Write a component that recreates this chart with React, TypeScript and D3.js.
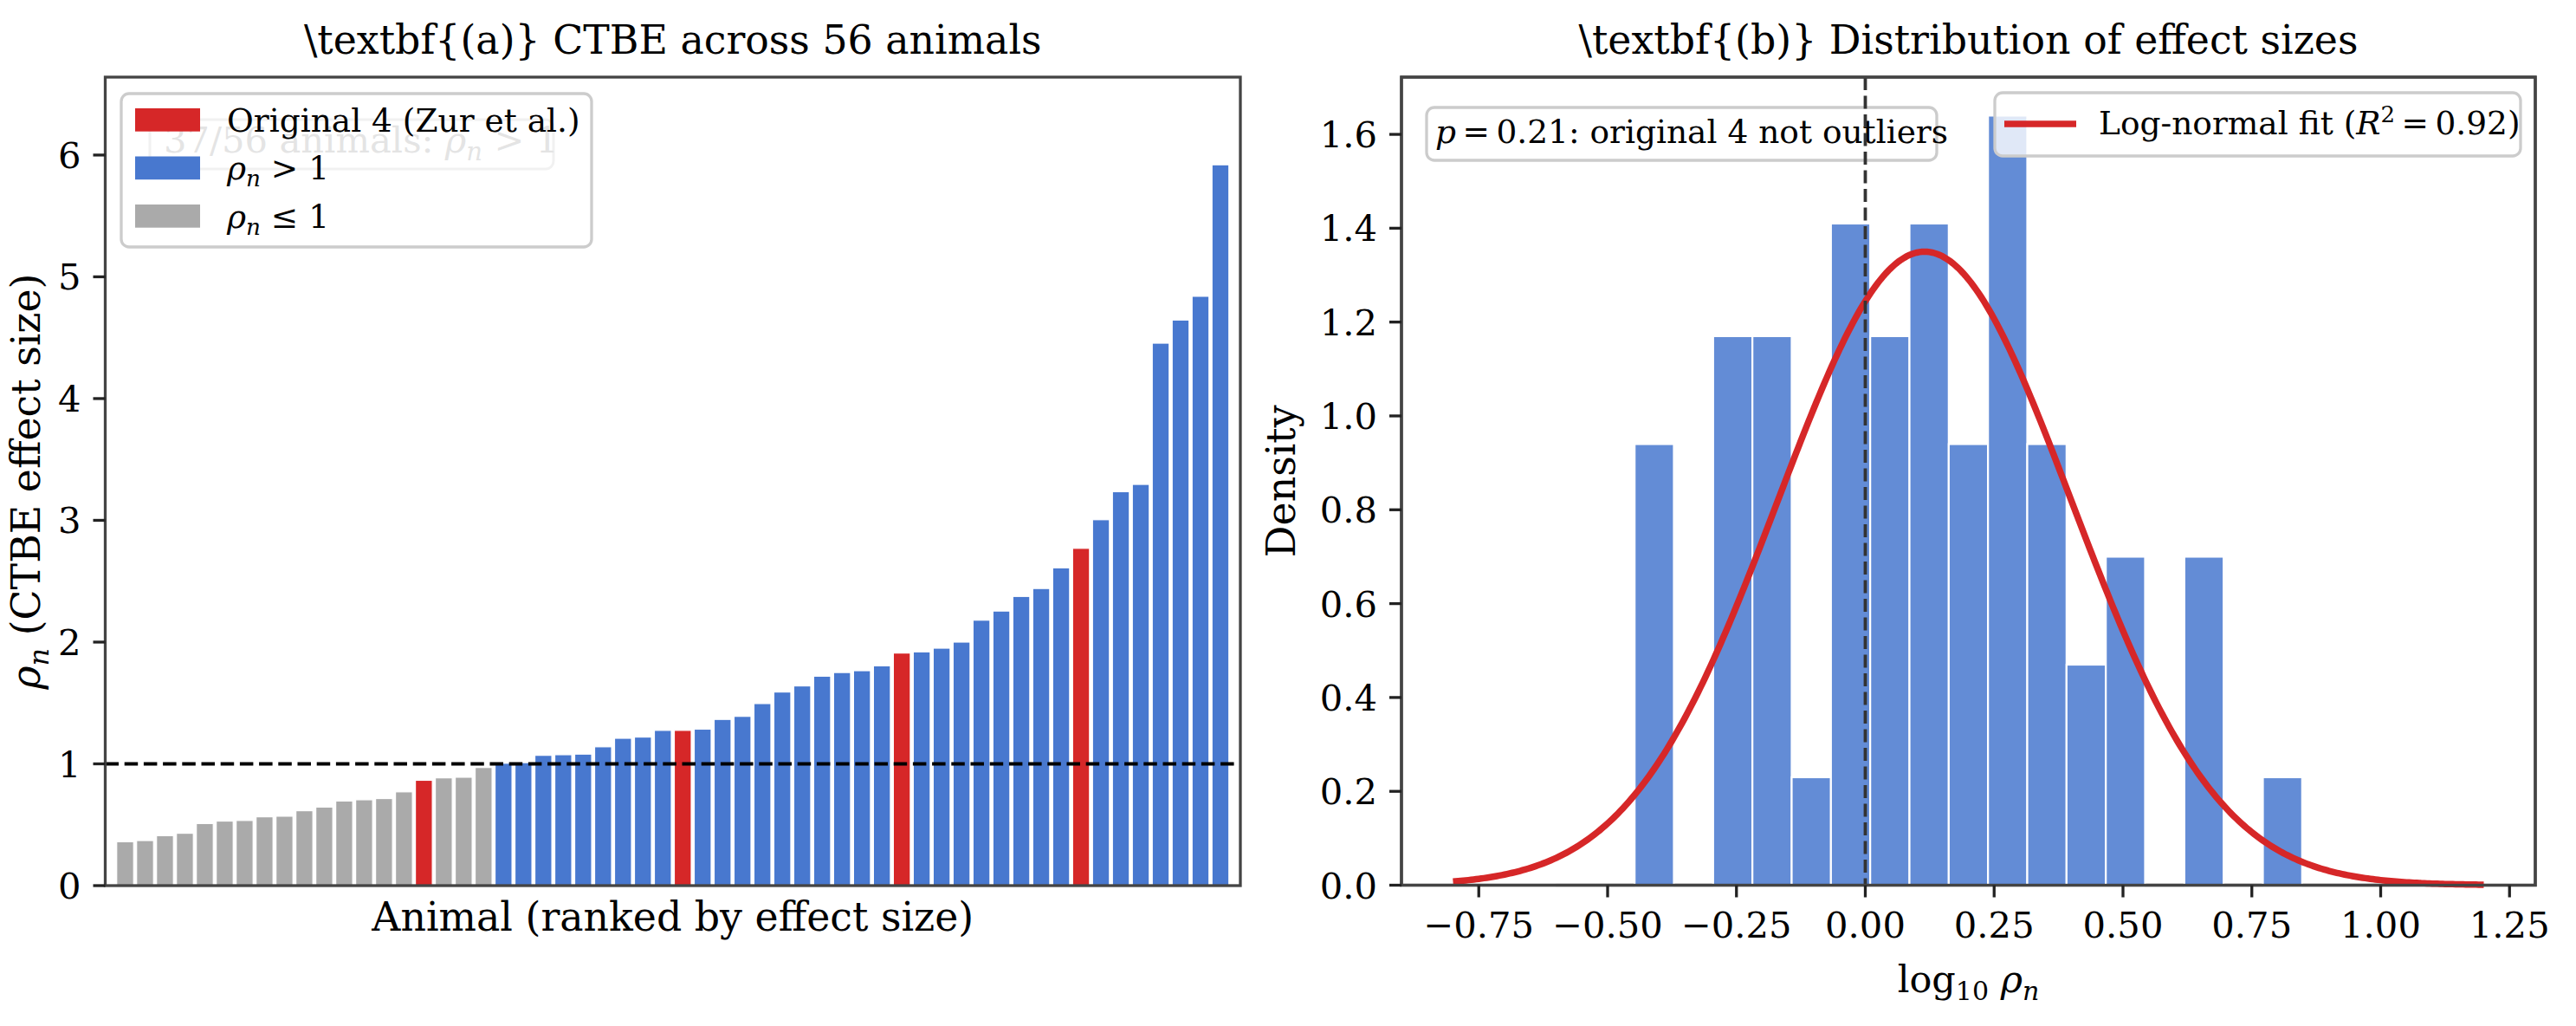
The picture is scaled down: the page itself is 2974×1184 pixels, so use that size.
import React, { useEffect, useRef } from 'react';
import * as d3 from 'd3';

// --- data ---
const rhoValues = [
  0.36, 0.37, 0.41, 0.43, 0.51, 0.53, 0.535, 0.565, 0.57, 0.615, 0.645, 0.695, 0.705, 0.715,
  0.77, 0.865, 0.885, 0.89, 0.97, 1.005, 1.01, 1.07, 1.075, 1.08, 1.14, 1.21, 1.22, 1.275,
  1.275, 1.285, 1.365, 1.39, 1.495, 1.59, 1.64, 1.72, 1.75, 1.765, 1.805, 1.91, 1.92, 1.95,
  2.0, 2.18, 2.255, 2.375, 2.44, 2.61, 2.77, 3.005, 3.235, 3.295, 4.455, 4.645, 4.84, 5.92,
];
const originalIdx = [15, 28, 39, 48];
const rhoTicks = [0, 1, 2, 3, 4, 5, 6];

const histDensity = [
  0, 0, 0.94, 0, 1.17, 1.17, 0.23, 1.41, 1.17, 1.41, 0.94, 1.64, 0.94, 0.47, 0.7, 0, 0.7, 0,
  0.23, 0, 0,
];
const histRange = [-0.6, 1.0];
const densityTicks = [0, 0.2, 0.4, 0.6, 0.8, 1.0, 1.2, 1.4, 1.6];
const logTicks = [-0.75, -0.5, -0.25, 0, 0.25, 0.5, 0.75, 1.0, 1.25];

// log-normal fit (gaussian in log10 space)
const fitMu = 0.115;
const fitSigma = 0.285;
const fitPeak = 1.35;
const fitRange = [-0.8, 1.2];

const RED = '#d62728';
const BLUE = '#4878cf';
const GRAY = '#aaaaaa';
const FONT = "'DejaVu Serif', serif";
const TICK = 41.7;
const LABEL = 45.8;

function addRhoN(t: any, size: number, rest: string) {
  t.append('tspan').attr('font-style', 'italic').text('ρ');
  t.append('tspan').attr('font-style', 'italic').attr('font-size', size * 0.7).attr('dy', size * 0.22).text('n');
  t.append('tspan').attr('dy', -size * 0.22).text(rest);
}

function App() {
  const ref = useRef<SVGSVGElement>(null);

  useEffect(() => {
    const svg = d3.select(ref.current);
    svg.selectAll('*').remove();

    svg.append('rect').attr('width', 2974).attr('height', 1184).attr('fill', 'white');

    // ================= panel (a) =================
    const A = { left: 121.5, right: 1432, top: 89, bottom: 1022 };
    const x = d3.scaleLinear().domain([-1, 56]).range([A.left, A.right]);
    const y = d3.scaleLinear().domain([0, 6.64]).range([A.bottom, A.top]);
    const bw = x(0.85) - x(0);
    const ga = svg.append('g');

    ga.selectAll('rect.bar')
      .data(rhoValues)
      .enter()
      .append('rect')
      .attr('x', (d, i) => x(i) - bw / 2)
      .attr('y', (d) => y(d))
      .attr('width', bw)
      .attr('height', (d) => y(0) - y(d))
      .attr('fill', (d, i) => (originalIdx.includes(i) ? RED : d > 1 ? BLUE : GRAY))
      .attr('stroke', 'white')
      .attr('stroke-width', 1.2);

    ga.append('line')
      .attr('x1', A.left).attr('x2', A.right)
      .attr('y1', y(1)).attr('y2', y(1))
      .attr('stroke', 'black').attr('stroke-width', 4.2)
      .attr('stroke-dasharray', '15.5,6.7');

    ga.append('rect')
      .attr('x', A.left).attr('y', A.top)
      .attr('width', A.right - A.left).attr('height', A.bottom - A.top)
      .attr('fill', 'none').attr('stroke', '#444').attr('stroke-width', 3.3);

    rhoTicks.forEach((t) => {
      ga.append('line')
        .attr('x1', A.left - 14).attr('x2', A.left)
        .attr('y1', y(t)).attr('y2', y(t))
        .attr('stroke', '#222').attr('stroke-width', 3.3);
      ga.append('text')
        .attr('x', A.left - 28).attr('y', y(t)).attr('dy', '0.36em')
        .attr('text-anchor', 'end').attr('font-family', FONT).attr('font-size', TICK)
        .text(t);
    });

    ga.append('text')
      .attr('x', (A.left + A.right) / 2).attr('y', 1074)
      .attr('text-anchor', 'middle').attr('font-family', FONT).attr('font-size', LABEL)
      .text('Animal (ranked by effect size)');

    const yl = ga.append('text')
      .attr('transform', `translate(46,${(A.top + A.bottom) / 2}) rotate(-90)`)
      .attr('text-anchor', 'middle').attr('font-family', FONT).attr('font-size', LABEL);
    addRhoN(yl, LABEL, ' (CTBE effect size)');

    ga.append('text')
      .attr('x', (A.left + A.right) / 2).attr('y', 62)
      .attr('text-anchor', 'middle').attr('font-family', FONT).attr('font-size', 45.8)
      .text('\\textbf{(a)} CTBE across 56 animals');

    // faint count box sitting behind the legend
    ga.append('rect')
      .attr('x', 173).attr('y', 138).attr('width', 466).attr('height', 57).attr('rx', 9)
      .attr('fill', 'white').attr('fill-opacity', 0.8).attr('stroke', '#bbb').attr('stroke-width', 3);
    const faint = ga.append('text')
      .attr('x', 189).attr('y', 176).attr('fill', '#777')
      .attr('font-family', FONT).attr('font-size', TICK);
    faint.append('tspan').text('37/56 animals: ');
    addRhoN(faint, TICK, ' > 1');

    // legend
    ga.append('rect')
      .attr('x', 140).attr('y', 108).attr('width', 543).attr('height', 177).attr('rx', 9)
      .attr('fill', 'white').attr('fill-opacity', 0.8).attr('stroke', '#cccccc').attr('stroke-width', 3.3);
    const legendA = [
      { color: RED, label: 'Original 4 (Zur et al.)' },
      { color: BLUE, label: ' > 1' },
      { color: GRAY, label: ' ≤ 1' },
    ];
    legendA.forEach((l, i) => {
      const yy = 125 + i * 55.5;
      ga.append('rect').attr('x', 156).attr('y', yy).attr('width', 75).attr('height', 26.7).attr('fill', l.color);
      const t = ga.append('text')
        .attr('x', 262).attr('y', yy + 26.7)
        .attr('font-family', FONT).attr('font-size', 37.5);
      if (i === 0) t.text(l.label);
      else addRhoN(t, 37.5, l.label);
    });

    // ================= panel (b) =================
    const B = { left: 1618, right: 2927, top: 89, bottom: 1021.5 };
    const xb = d3.scaleLinear().domain([-0.9, 1.3]).range([B.left, B.right]);
    const yb = d3.scaleLinear().domain([0, 1.722]).range([B.bottom, B.top]);
    const gb = svg.append('g');

    gb.append('rect')
      .attr('x', B.left).attr('y', B.top)
      .attr('width', B.right - B.left).attr('height', B.bottom - B.top)
      .attr('fill', 'none').attr('stroke', '#444').attr('stroke-width', 3.3);

    const binW = (histRange[1] - histRange[0]) / histDensity.length;
    histDensity.forEach((d, i) => {
      const x0 = xb(histRange[0] + i * binW);
      const x1 = xb(histRange[0] + (i + 1) * binW);
      if (d > 0) {
        gb.append('rect')
          .attr('x', x0).attr('y', yb(d))
          .attr('width', x1 - x0).attr('height', yb(0) - yb(d))
          .attr('fill', BLUE).attr('fill-opacity', 0.85)
          .attr('stroke', 'white').attr('stroke-width', 2.2);
      } else {
        gb.append('line')
          .attr('x1', x0).attr('x2', x1).attr('y1', yb(0)).attr('y2', yb(0))
          .attr('stroke', '#c8c8c8').attr('stroke-width', 3.3);
      }
    });

    const fitX = d3.range(0, 401).map((k) => fitRange[0] + (k / 400) * (fitRange[1] - fitRange[0]));
    const line = d3.line<number>()
      .x((v) => xb(v))
      .y((v) => yb(fitPeak * Math.exp(-0.5 * ((v - fitMu) / fitSigma) ** 2)));
    gb.append('path')
      .datum(fitX)
      .attr('d', line)
      .attr('fill', 'none').attr('stroke', RED).attr('stroke-width', 7.5);

    // annotation
    gb.append('rect')
      .attr('x', 1647).attr('y', 124).attr('width', 589).attr('height', 61).attr('rx', 9)
      .attr('fill', 'white').attr('fill-opacity', 0.8).attr('stroke', '#cccccc').attr('stroke-width', 3.3);
    const ann = gb.append('text')
      .attr('x', 1657).attr('y', 165)
      .attr('font-family', FONT).attr('font-size', 37.5);
    ann.append('tspan').attr('font-style', 'italic').text('p');
    ann.append('tspan').text('\u2009=\u20090.21: original 4 not outliers');

    gb.append('line')
      .attr('x1', xb(0)).attr('x2', xb(0)).attr('y1', B.top).attr('y2', B.bottom)
      .attr('stroke', '#333').attr('stroke-width', 3.8)
      .attr('stroke-dasharray', '15,6.5');

    gb.append('rect')
      .attr('x', B.left).attr('y', B.top)
      .attr('width', B.right - B.left).attr('height', B.bottom - B.top)
      .attr('fill', 'none').attr('stroke', '#444').attr('stroke-width', 3.3);

    densityTicks.forEach((t) => {
      gb.append('line')
        .attr('x1', B.left - 14).attr('x2', B.left)
        .attr('y1', yb(t)).attr('y2', yb(t))
        .attr('stroke', '#222').attr('stroke-width', 3.3);
      gb.append('text')
        .attr('x', B.left - 28).attr('y', yb(t)).attr('dy', '0.36em')
        .attr('text-anchor', 'end').attr('font-family', FONT).attr('font-size', TICK)
        .text(t.toFixed(1));
    });
    logTicks.forEach((t) => {
      gb.append('line')
        .attr('x1', xb(t)).attr('x2', xb(t))
        .attr('y1', B.bottom).attr('y2', B.bottom + 14)
        .attr('stroke', '#222').attr('stroke-width', 3.3);
      gb.append('text')
        .attr('x', xb(t)).attr('y', 1082)
        .attr('text-anchor', 'middle').attr('font-family', FONT).attr('font-size', TICK)
        .text(t.toFixed(2).replace('-', '\u2212'));
    });

    const xl = gb.append('text')
      .attr('x', (B.left + B.right) / 2).attr('y', 1145)
      .attr('text-anchor', 'middle').attr('font-family', FONT).attr('font-size', 43);
    xl.append('tspan').text('log');
    xl.append('tspan').attr('font-size', 30).attr('dy', 9).text('10');
    xl.append('tspan').attr('dy', -9).text(' ');
    addRhoN(xl, 43, '');

    gb.append('text')
      .attr('transform', `translate(1495,${(B.top + B.bottom) / 2}) rotate(-90)`)
      .attr('text-anchor', 'middle').attr('font-family', FONT).attr('font-size', LABEL)
      .text('Density');

    gb.append('text')
      .attr('x', (B.left + B.right) / 2).attr('y', 62)
      .attr('text-anchor', 'middle').attr('font-family', FONT).attr('font-size', 45.8)
      .text('\\textbf{(b)} Distribution of effect sizes');

    // legend
    gb.append('rect')
      .attr('x', 2303).attr('y', 107).attr('width', 607).attr('height', 73).attr('rx', 9)
      .attr('fill', 'white').attr('fill-opacity', 0.8).attr('stroke', '#cccccc').attr('stroke-width', 3.3);
    gb.append('line')
      .attr('x1', 2314).attr('x2', 2397).attr('y1', 143).attr('y2', 143)
      .attr('stroke', RED).attr('stroke-width', 7.5);
    const lt = gb.append('text')
      .attr('x', 2423).attr('y', 155)
      .attr('font-family', FONT).attr('font-size', 37.5);
    lt.append('tspan').text('Log-normal fit (');
    lt.append('tspan').attr('font-style', 'italic').text('R');
    lt.append('tspan').attr('font-size', 26).attr('dy', -14).text('2');
    lt.append('tspan').attr('dy', 14).text('\u2009=\u20090.92)');
  }, []);

  return (
    <svg
      ref={ref}
      width={2974}
      height={1184}
      style={{ position: 'absolute', left: 0, top: 0, display: 'block' }}
    />
  );
}

export default App;
